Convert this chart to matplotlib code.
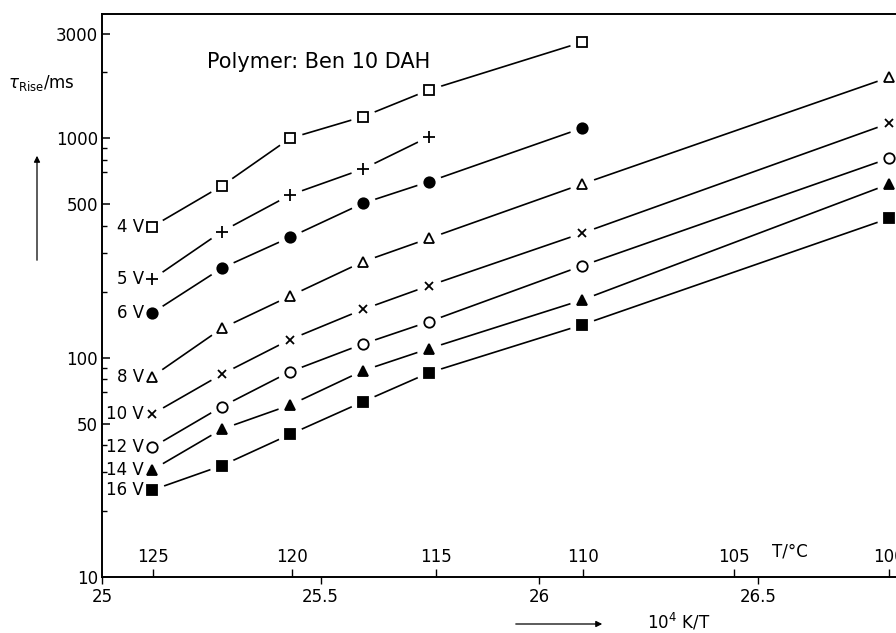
"""Rise time versus inverse temperature for the polymer Ben 10 DAH."""

import matplotlib

matplotlib.use("Agg")
import matplotlib.pyplot as plt

# -----------------------------
# Data
# -----------------------------
# measurement columns in 10^4 K/T (125, 122.5, 120, 117.5, 115, 110, 100 degC)
invTemp = [25.115, 25.274, 25.430, 25.597, 25.748, 26.097, 26.800]

rise4V = [396, 607, 1001, 1256, 1663, 2742]
rise5V = [228, 376, 552, 725, 1018]
rise6V = [160, 256, 354, 506, 635, 1112]
rise8V = [82, 136, 191, 274, 350, 618, 1899]
rise10V = [55.3, 84, 121, 166, 213, 369, 1172]
rise12V = [39.0, 59.8, 86.3, 115.5, 146, 262, 811]
rise14V = [30.8, 47.2, 60.8, 87.3, 110, 183, 619]
rise16V = [24.9, 32.2, 44.7, 63.0, 85.4, 141, 432]

voltageLabels = ["4 V", "5 V", "6 V", "8 V", "10 V", "12 V", "14 V", "16 V"]

yMajorTicks = [10, 50, 100, 500, 1000, 3000]
yMinorTicks = [20, 30, 40, 70, 80, 90, 200, 300, 400, 700, 800, 900, 2000]
xTicks = [25, 25.5, 26, 26.5]
xTickLabels = ["25", "25.5", "26", "26.5"]
celsiusTicks = [125, 120, 115, 110, 105, 100]

# marker, filled?, size
markerStyles = [
    ("s", False, 7),
    ("+", True, 8),
    ("o", True, 7.5),
    ("^", False, 7.5),
    ("x", True, 5.5),
    ("o", False, 7.5),
    ("^", True, 7),
    ("s", True, 6.5),
]

plt.rcParams["font.family"] = ["DejaVu Sans"]
plt.rcParams["mathtext.fontset"] = "dejavusans"


def toCelsius(x):
    return 1e4 / x - 273.15


def toInverse(t):
    return 1e4 / (t + 273.15)


def main():
    fig = plt.figure(figsize=(8.96, 6.33), dpi=100)
    ax = fig.add_axes([102 / 896, 56 / 633, 794 / 896, 563 / 633])

    series = [rise4V, rise5V, rise6V, rise8V, rise10V, rise12V, rise14V, rise16V]

    for values, label, (marker, filled, size) in zip(series, voltageLabels, markerStyles):
        xs = invTemp[:len(values)]
        ax.plot(xs, values, color="black", lw=1.2, zorder=2, clip_on=False)
        # white halo so the curve stops short of each marker
        ax.plot(xs, values, ls="none", marker="o", ms=18, mfc="white", mec="none",
                zorder=3, clip_on=False)
        ax.plot(xs, values, ls="none", marker=marker, ms=size,
                mfc="black" if filled else "white", mec="black", mew=1.3,
                zorder=4, clip_on=False)
        ax.annotate(label, (xs[0], values[0]), xytext=(-6, 0), textcoords="offset points",
                    ha="right", va="center", fontsize=12)

    ax.set_yscale("log")
    ax.set_ylim(10, 3690)
    ax.set_xlim(25, 25 + 794 / 437.3)

    ax.set_yticks(yMajorTicks)
    ax.set_yticklabels([str(v) for v in yMajorTicks])
    ax.set_yticks(yMinorTicks, minor=True)
    ax.yaxis.set_minor_formatter(matplotlib.ticker.NullFormatter())
    ax.tick_params(axis="y", which="major", direction="in", length=6, width=1.1,
                   labelsize=12, pad=3)
    ax.tick_params(axis="y", which="minor", direction="in", length=3.5, width=1.0)

    ax.set_xticks(xTicks)
    ax.set_xticklabels(xTickLabels)
    ax.tick_params(axis="x", which="major", direction="out", length=5, width=1.0,
                   labelsize=12, pad=3)

    # temperature scale drawn on the bottom spine, pointing upwards
    secAx = ax.secondary_xaxis(0, functions=(toCelsius, toInverse))
    secAx.set_alignment("top")
    secAx.set_xticks(celsiusTicks)
    secAx.set_xticklabels([str(t) for t in celsiusTicks])
    secAx.tick_params(axis="x", direction="out", length=6, width=1.0, labelsize=12, pad=2)
    secAx.spines["top"].set_visible(False)
    secAx.spines["bottom"].set_visible(False)

    ax.text(26.573, 0.045, "T/°C", transform=ax.get_xaxis_transform(),
            ha="center", va="center", fontsize=12)

    for side in ["left", "bottom", "top"]:
        ax.spines[side].set_linewidth(1.4)
    ax.spines["right"].set_visible(False)

    ax.text(0.132, 0.915, "Polymer: Ben 10 DAH", transform=ax.transAxes,
            ha="left", va="center", fontsize=15)

    fig.text(8 / 896, 1 - 83 / 633, r"$\tau_{\mathrm{Rise}}$/ms", ha="left", va="center",
             fontsize=12)
    ax.annotate("", xy=(37 / 896, 1 - 153 / 633), xytext=(37 / 896, 1 - 263 / 633),
                xycoords="figure fraction", textcoords="figure fraction",
                arrowprops=dict(arrowstyle="-|>", lw=0.9, color="black", mutation_scale=9))

    ax.annotate("", xy=(605 / 896, 1 - 624 / 633), xytext=(513 / 896, 1 - 624 / 633),
                xycoords="figure fraction", textcoords="figure fraction",
                arrowprops=dict(arrowstyle="-|>", lw=0.9, color="black", mutation_scale=9))
    fig.text(647 / 896, 1 - 622 / 633, r"10$^4$ K/T", ha="left", va="center", fontsize=12)

    fig.savefig("out.png", dpi=100)


if __name__ == "__main__":
    main()
